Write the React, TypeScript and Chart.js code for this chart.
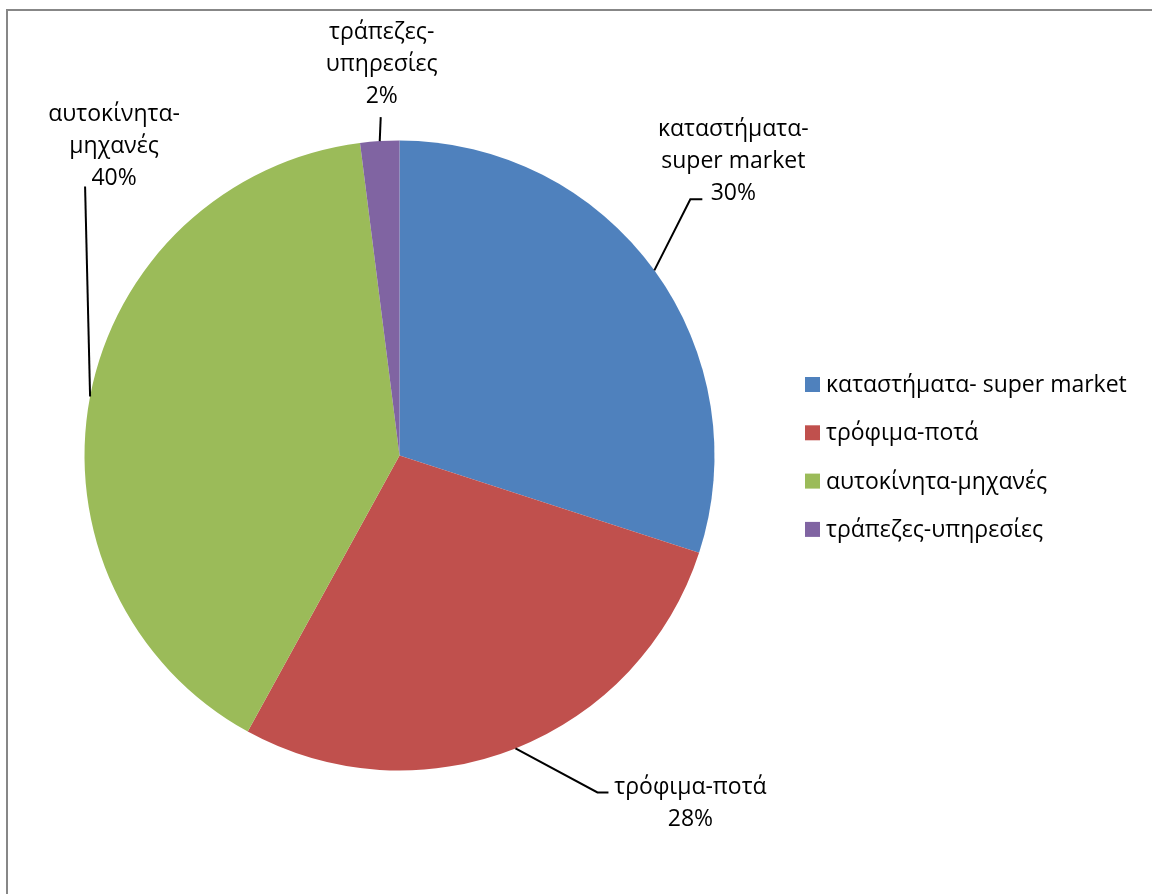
import React, { useEffect, useRef } from "react";
import { Chart, registerables } from "chart.js";

Chart.register(...registerables);

const categories = [
  "καταστήματα- super market",
  "τρόφιμα-ποτά",
  "αυτοκίνητα-μηχανές",
  "τράπεζες-υπηρεσίες",
];
const shares = [30, 28, 40, 2];
const labelLines = [
  ["καταστήματα-", "super market"],
  ["τρόφιμα-ποτά"],
  ["αυτοκίνητα-", "μηχανές"],
  ["τράπεζες-", "υπηρεσίες"],
];
const sliceColors = ["#4F81BD", "#C0504D", "#9BBB59", "#8064A2"];

// label layout relative to the slice's outer-edge midpoint
const labelLayout = [
  { elbow: [36, -71], end: [48, -71], text: [79, -70] },
  { elbow: [82, 44], end: [93, 44], text: [175, 78] },
  { elbow: [-5, -210], end: [-5, -210], text: [24, -211] },
  { elbow: [1, -24], end: [1, -24], text: [2, -38] },
];

const FONT = '23px "Open Sans", "Noto Sans", sans-serif';
const LINE_H = 32;

const decorPlugin = {
  id: "decor",
  beforeDraw(chart: any) {
    const ctx = chart.ctx;
    ctx.save();
    ctx.strokeStyle = "#878787";
    ctx.lineWidth = 2;
    ctx.strokeRect(7, 10, 3000, 3000);
    ctx.restore();
  },
  afterDatasetsDraw(chart: any) {
    const ctx = chart.ctx;
    const meta = chart.getDatasetMeta(0);
    const total = shares.reduce((a, b) => a + b, 0);
    ctx.save();
    ctx.font = FONT;
    ctx.fillStyle = "#000";
    ctx.strokeStyle = "#000";
    ctx.lineWidth = 2;
    meta.data.forEach((arc: any, i: number) => {
      const mid = (arc.startAngle + arc.endAngle) / 2;
      const ex = arc.x + Math.cos(mid) * arc.outerRadius;
      const ey = arc.y + Math.sin(mid) * arc.outerRadius;
      const L = labelLayout[i];
      ctx.beginPath();
      ctx.moveTo(ex, ey);
      ctx.lineTo(ex + L.elbow[0], ey + L.elbow[1]);
      ctx.lineTo(ex + L.end[0], ey + L.end[1]);
      ctx.stroke();
      const lines = [...labelLines[i], Math.round((shares[i] / total) * 100) + "%"];
      ctx.textAlign = "center";
      ctx.textBaseline = "alphabetic";
      const cx = ex + L.text[0];
      const lastY = ey + L.text[1];
      lines.forEach((t, k) => {
        ctx.fillText(t, cx, lastY - (lines.length - 1 - k) * LINE_H);
      });
    });
    // legend
    const lx = 805;
    const ly = 377;
    const step = 48.3;
    categories.forEach((c, i) => {
      const y = ly + i * step;
      ctx.fillStyle = sliceColors[i];
      ctx.fillRect(lx, y, 15, 15);
      ctx.fillStyle = "#000";
      ctx.textAlign = "left";
      ctx.textBaseline = "alphabetic";
      ctx.fillText(c, lx + 21, y + 15);
    });
    ctx.restore();
  },
};

export default function App() {
  const ref = useRef<HTMLCanvasElement | null>(null);
  useEffect(() => {
    if (!ref.current) return;
    const chart = new Chart(ref.current, {
      type: "pie",
      data: {
        labels: categories,
        datasets: [
          {
            data: shares,
            backgroundColor: sliceColors,
            borderWidth: 0,
          },
        ],
      },
      options: {
        responsive: false,
        animation: false,
        layout: { padding: { left: 84.5, top: 140.5, right: 437.5, bottom: 123.5 } },
        plugins: {
          legend: { display: false },
          tooltip: { enabled: false },
        },
      },
      plugins: [decorPlugin],
    });
    return () => chart.destroy();
  }, []);
  return (
    <div style={{ position: "fixed", left: 0, top: 0, width: 1152, height: 894, background: "#fff" }}>
      <canvas ref={ref} width={1152} height={894} style={{ display: "block" }} />
    </div>
  );
}
